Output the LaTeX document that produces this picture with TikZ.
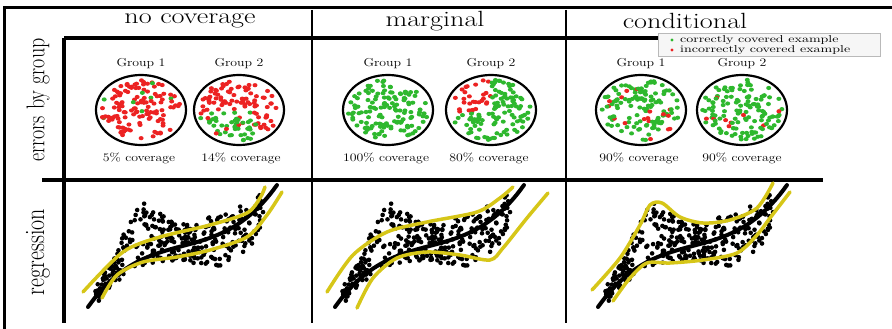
\documentclass[tikz,border=0pt]{standalone}
\usepackage{graphicx}
\usetikzlibrary{shapes.geometric, positioning}
\definecolor{okgreen}{RGB}{46,184,46}
\definecolor{badred}{RGB}{236,34,34}
\definecolor{bandyel}{RGB}{214,198,24}
\definecolor{legfill}{RGB}{246,246,246}
\newcommand{\stretchtxt}[2][1.28]{\scalebox{#1}[1]{#2}}
% dots of one group: centre x, centre y, seed, test for a red dot
\newcommand{\groupdots}[4]{%
  \pgfmathsetseed{#3}
  \foreach \k in {1,...,135}{
    \pgfmathsetmacro\ang{360*rnd}
    \pgfmathsetmacro\rd{0.95*sqrt(rnd)}
    \pgfmathsetmacro\du{\rd*cos(\ang)}
    \pgfmathsetmacro\dv{\rd*sin(\ang)}
    \pgfmathsetmacro\pr{rnd}
    \pgfmathtruncatemacro\isred{(#4) ? 1 : 0}
    \ifnum\isred=1 \def\dotc{badred}\else\def\dotc{okgreen}\fi
    \fill[\dotc] ({#1+42*\du},{#2+32*\dv}) ellipse (2.5pt and 2.1pt);
  }
}
% point cloud and fitted curve of one regression panel
\newcommand{\regcloud}[1]{%
  \pgfmathsetseed{7}
  \foreach \k in {1,...,330}{
    \pgfmathsetmacro\tv{0.04+0.88*rnd}
    \pgfmathsetmacro\sv{2*\tv-1}
    \pgfmathsetmacro\yc{246-25*\sv-36*\sv*\sv*\sv}
    \pgfmathsetmacro\da{(\tv-0.27)/0.12}
    \pgfmathsetmacro\db{(\tv-0.76)/0.25}
    \pgfmathsetmacro\upr{8+40*exp(max(-12,-\da*\da))+15*sin(180*\tv)}
    \pgfmathsetmacro\lwr{6+28*exp(max(-12,-\db*\db))}
    \fill ({#1+189*\tv+4*rnd-2},{\yc-\upr+(\upr+\lwr)*rnd}) circle (2.3pt);
  }
  \draw[fitline] plot[domain=0:1, samples=40, smooth]
    ({#1+189*\x},{246-25*(2*\x-1)-36*(2*\x-1)*(2*\x-1)*(2*\x-1)});
}
\tikzset{
  frameln/.style={line width=3pt},
  gridln/.style={line width=4pt},
  sepln/.style={line width=2.2pt},
  ring/.style={ellipse, draw, line width=2.2pt, minimum width=90pt,
               minimum height=70pt, inner sep=0pt},
  colhead/.style={font=\fontsize{22}{24}\selectfont, inner sep=0pt},
  rowlbl/.style={rotate=90, inner sep=0pt},
  grplbl/.style={font=\fontsize{11.5}{13}\selectfont, inner sep=0pt},
  covlbl/.style={grplbl},
  legtxt/.style={font=\fontsize{10}{11}\selectfont, anchor=west, inner sep=0pt},
  fitline/.style={line width=4pt, line cap=round},
  bandline/.style={line width=3.5pt, bandyel, line cap=round},
}

\begin{document}
\begin{tikzpicture}[x=1pt, y=-1pt]
  \useasboundingbox (0,0) rectangle (892,329);
  % frame and grid
  \draw[frameln] (892,8) -- (4,8) -- (4,329);
  \draw[gridln] (64,38) -- (64,323);
  \draw[gridln] (64,38) -- (658,38);
  \draw[gridln] (42,180) -- (823,180);
  \draw[sepln] (312,10) -- (312,323);
  \draw[sepln] (566,10) -- (566,323);
  % column heads
  \node[colhead] (hnone) at (190,21) {\stretchtxt{no coverage}};
  \node[colhead] (hmarg) at (435,21) {\stretchtxt{marginal}};
  \node[colhead] (hcond) at (685,21) {\stretchtxt{conditional}};
  % row labels
  \node[rowlbl, font=\fontsize{20}{22}\selectfont] (rerr) at (38,100)
    {\scalebox{1}[1.28]{errors by group}};
  \node[rowlbl, font=\fontsize{22}{24}\selectfont] (rreg) at (38,252)
    {\scalebox{1}[1.28]{regression}};
  % legend
  \node[draw=gray!55, fill=legfill, minimum width=222pt, minimum height=23pt,
        inner sep=0pt] (legend) at (769,45) {};
  \fill[okgreen] (672,40) circle (1.7pt);
  \fill[badred] (672,50) circle (1.7pt);
  \node[legtxt] (lok) at (680,40) {\stretchtxt[1.4]{correctly covered example}};
  \node[legtxt] (lbad) at (680,50) {\stretchtxt[1.4]{incorrectly covered example}};
  % groups: no coverage
  \node[ring] (n1) at (141,110) {};
  \node[ring] (n2) at (239,110) {};
  \groupdots{141}{110}{3}{\pr>0.06}
  \groupdots{239}{110}{5}{or(or(\du>0.4,\dv<0.08),\pr<0.15)}
  % groups: marginal
  \node[ring] (m1) at (388,110) {};
  \node[ring] (m2) at (491,110) {};
  \groupdots{388}{110}{9}{0}
  \groupdots{491}{110}{12}{and(\du<0,\dv<0.05)}
  % groups: conditional
  \node[ring] (c1) at (641,110) {};
  \node[ring] (c2) at (742,110) {};
  \groupdots{641}{110}{21}{\pr<0.1}
  \groupdots{742}{110}{27}{\pr<0.09}
  % group names and coverage
  \foreach \g/\n in {n1/1,n2/2,m1/1,m2/2,c1/1,c2/2}{
    \node[grplbl, above=5pt of \g] (\g t) {\stretchtxt[1.2]{Group \n}};
  }
  \node[covlbl] (n1c) at (139,158) {\stretchtxt[1.2]{5\% coverage}};
  \node[covlbl] (n2c) at (241,158) {\stretchtxt[1.2]{14\% coverage}};
  \node[covlbl] (m1c) at (386,158) {\stretchtxt[1.2]{100\% coverage}};
  \node[covlbl] (m2c) at (489,158) {\stretchtxt[1.2]{80\% coverage}};
  \node[covlbl] (c1c) at (639,158) {\stretchtxt[1.2]{90\% coverage}};
  \node[covlbl] (c2c) at (742,158) {\stretchtxt[1.2]{90\% coverage}};
  % regression panels
  \regcloud{88}
  \regcloud{335}
  \regcloud{598}
  \draw[bandline] plot[smooth] coordinates {(83,292) (123,252) (160,237) (210,225) (247,213) (260,198) (265,187)};
  \draw[bandline] plot[smooth] coordinates {(102,298) (117,275) (143,262) (177,257) (210,250) (247,237) (267,215) (282,192)};
  \draw[bandline] plot[smooth] coordinates {(327,292) (353,255) (387,232) (427,222) (477,212) (500,198) (513,187)};
  \draw[bandline] plot[smooth] coordinates {(357,308) (373,278) (397,258) (427,252) (460,255) (490,260) (503,248) (527,218) (548,193)};
  \draw[bandline] plot[smooth] coordinates {(592,290) (620,258) (640,225) (650,205) (662,203) (680,217) (703,223) (730,220) (757,208) (773,183)};
  \draw[bandline] plot[smooth] coordinates {(613,301) (630,278) (647,263) (670,263) (703,260) (737,253) (757,235) (770,218) (790,192)};
\end{tikzpicture}
\end{document}
